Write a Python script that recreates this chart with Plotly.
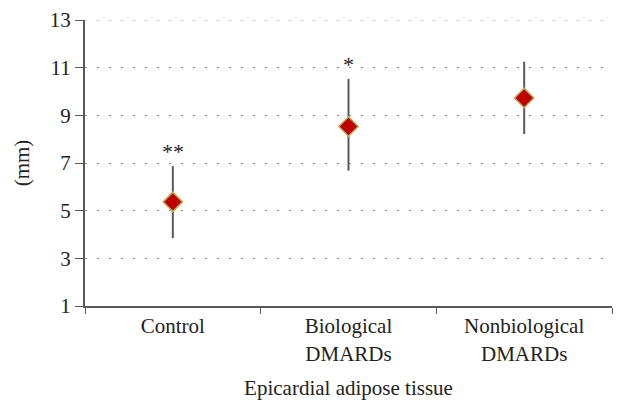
import plotly.graph_objects as go

categories = ["Control", "Biological<br>DMARDs", "Nonbiological<br>DMARDs"]
means = [5.37, 8.53, 9.73]
err_plus = [1.50, 2.00, 1.52]
err_minus = [1.52, 1.85, 1.51]
stars = ["**", "*", ""]
y_ticks = [1, 3, 5, 7, 9, 11, 13]

FONT = "Liberation Serif, Times New Roman, serif"
GRID = dict(color="#8c8c8c", width=1, dash="2px,10px")

fig = go.Figure()
fig.add_trace(go.Scatter(
    x=categories, y=means, mode="markers",
    marker=dict(symbol="diamond", size=15, color="#C00000",
                line=dict(color="#B5B55A", width=1.5)),
    error_y=dict(type="data", symmetric=False, array=err_plus, arrayminus=err_minus,
                 color="#595959", thickness=2, width=0),
    showlegend=False,
))

for c, m, p, s in zip(categories, means, err_plus, stars):
    if s:
        fig.add_annotation(x=c, y=m + p, text=s, showarrow=False, yanchor="bottom",
                           yshift=0, font=dict(family=FONT, size=22, color="#222222"))

# top gridline (plotly hides gridlines that sit on the plot edge)
fig.add_shape(type="line", xref="paper", yref="y", x0=0, x1=1,
              y0=y_ticks[-1], y1=y_ticks[-1], line=GRID, layer="below")

# page body has an 8px default margin, so the figure is 8px smaller each way
fig.update_layout(
    width=635, height=410,
    margin=dict(l=77, r=31, t=12, b=112),
    paper_bgcolor="white", plot_bgcolor="white",
    font=dict(family=FONT, size=21, color="#222222"),
    xaxis=dict(
        type="category", range=[-0.5, 2.5], showline=True, linecolor="#595959", linewidth=2,
        ticks="outside", tickson="boundaries", ticklen=6, tickcolor="#595959",
        showgrid=False, tickfont=dict(size=21), automargin=False,
        title=dict(text="Epicardial adipose tissue", font=dict(size=21), standoff=16),
    ),
    yaxis=dict(
        range=[1, 13], tickvals=y_ticks, showline=True, linecolor="#595959", linewidth=2,
        ticks="outside", ticklen=8, tickcolor="#595959", zeroline=False,
        showgrid=True, gridcolor=GRID["color"], gridwidth=1, griddash=GRID["dash"],
        tickfont=dict(size=21), automargin=False,
        title=dict(text="(mm)", font=dict(size=21), standoff=14),
    ),
)

fig.write_html("out.html")
